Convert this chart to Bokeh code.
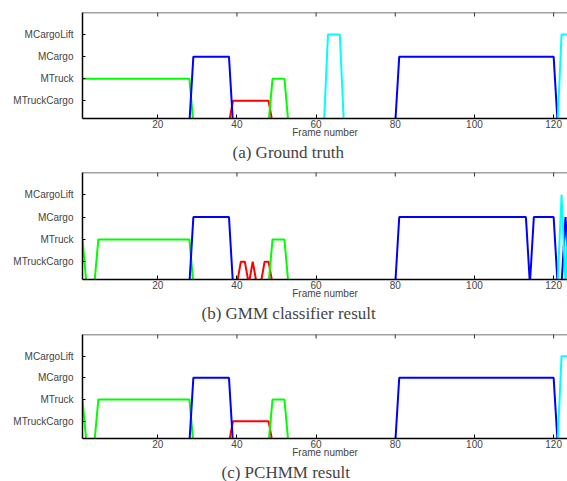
import math
from bokeh.plotting import figure
from bokeh.models import Range1d, FixedTicker, LinearAxis, Title, Span
from bokeh.layouts import column
from bokeh.embed import file_html
from bokeh.resources import INLINE

# Class names and their levels on the y axis
classes = ["MTruckCargo", "MTruck", "MCargo", "MCargoLift"]
class_levels = [1, 2, 3, 4]
class_colors = ["#ff0000", "#00ff00", "#0000ff", "#00ffff"]
x_ticks = [20, 40, 60, 80, 100, 120]
n_frames = 124

# Run-length segments: (class, first frame, last frame)
ground_truth = [("MTruck", 1, 28), ("MCargo", 29, 38), ("MTruckCargo", 39, 48),
                ("MTruck", 49, 52), ("MCargoLift", 63, 66), ("MCargo", 81, 120),
                ("MCargoLift", 122, 124)]
gmm_result = [("MTruck", 1, 1), ("MTruck", 5, 28), ("MCargo", 29, 38),
              ("MTruckCargo", 41, 42), ("MTruckCargo", 44, 44), ("MTruckCargo", 47, 48),
              ("MTruck", 49, 52), ("MCargo", 81, 113), ("MCargo", 115, 120),
              ("MCargoLift", 122, 122), ("MCargo", 123, 123), ("MCargoLift", 124, 124)]
pchmm_result = [("MTruck", 1, 1), ("MTruck", 5, 28), ("MCargo", 29, 38),
                ("MTruckCargo", 39, 48), ("MTruck", 49, 52), ("MCargo", 81, 120),
                ("MCargoLift", 122, 124)]

panels = [(ground_truth, "(a) Ground truth", 150),
          (gmm_result, "(b) GMM classifier result", 119),
          (pchmm_result, "(c) PCHMM result", 139)]

heights = [161, 161, 159]
tops = [12, 11, 12]
bottoms = [43, 43, 41]
y_lo, y_hi = 0.2, 5

figs = []
for (segments, caption, cap_off), h, mt, mb in zip(panels, heights, tops, bottoms):
    p = figure(width=567, height=h, output_backend="svg", toolbar_location=None,
               x_range=Range1d(1, 123.5), y_range=Range1d(y_lo, y_hi),
               min_border_left=82, min_border_right=0, min_border_top=mt,
               min_border_bottom=mb, x_axis_location=None, y_axis_location=None)
    p.outline_line_color = None
    p.grid.visible = False
    p.background_fill_color = "white"
    p.border_fill_color = "white"

    frames = list(range(1, n_frames + 1))
    for name, lvl, col in zip(classes, class_levels, class_colors):
        ys = [0] * n_frames
        for cname, a, b in segments:
            if cname == name:
                for f in range(a, b + 1):
                    ys[f - 1] = lvl
        p.line(frames, ys, line_color=col, line_width=2)

    # top border with inward ticks
    p.add_layout(Span(location=y_hi, dimension="width", line_color="#444444",
                      line_width=1.5))
    p.scatter(x_ticks, [y_hi] * len(x_ticks), marker="dash", angle=math.pi / 2,
              size=8, line_color="#333333", line_width=1)

    # bottom axis
    xa = LinearAxis(ticker=FixedTicker(ticks=x_ticks), axis_label="Frame number")
    xa.major_tick_in = 4
    xa.major_tick_out = 0
    xa.minor_tick_line_color = None
    xa.major_label_text_font = "Liberation Sans"
    xa.major_label_text_font_size = "10px"
    xa.major_label_standoff = 1
    xa.axis_label_text_font = "Liberation Sans"
    xa.axis_label_text_font_size = "10px"
    xa.axis_label_text_font_style = "normal"
    xa.axis_label_standoff = -4
    xa.axis_line_color = "black"
    xa.axis_line_width = 1.5
    p.add_layout(xa, "below")

    # left axis
    ya = LinearAxis(ticker=FixedTicker(ticks=class_levels))
    ya.major_label_overrides = {lvl: name for lvl, name in zip(class_levels, classes)}
    ya.major_tick_in = 3
    ya.major_tick_out = 0
    ya.minor_tick_line_color = None
    ya.major_label_text_font = "Liberation Sans"
    ya.major_label_text_font_size = "10px"
    ya.major_label_standoff = 9
    ya.axis_line_color = "black"
    ya.axis_line_width = 1.5
    p.add_layout(ya, "left")

    t = Title(text=caption, align="left", offset=cap_off,
              text_font="Liberation Serif", text_font_size="17px",
              text_font_style="normal", standoff=0)
    p.add_layout(t, "below")
    figs.append(p)

layout = column(*figs)
open("out.html", "w").write(file_html(layout, INLINE))
